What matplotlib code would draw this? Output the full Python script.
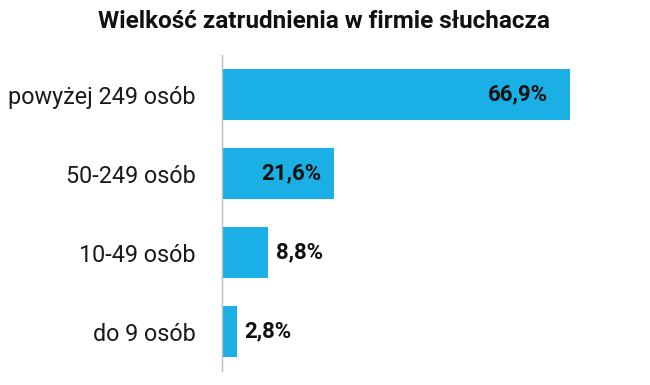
import matplotlib.pyplot as plt

plt.rcParams['font.family'] = ['Roboto', 'DejaVu Sans']

categories = ['powyżej 249 osób', '50-249 osób', '10-49 osób', 'do 9 osób']
values = [66.9, 21.6, 8.8, 2.8]
labels = ['66,9%', '21,6%', '8,8%', '2,8%']
inside = [True, True, False, False]

color = '#1ab0e6'

fig = plt.figure(figsize=(6.5, 3.85), dpi=100)
ax = fig.add_axes([0.3415, 0.036, 0.64, 0.821])

pos = list(range(len(values)))
ax.barh(pos, values, height=0.65, color=color)
ax.set_ylim(3.5, -0.5)
ax.set_xlim(0, 80)

for p, v, lab, ins in zip(pos, values, labels, inside):
    if ins:
        off = -22 if v > 50 else -13
        ax.annotate(lab, (v, p), xytext=(off, 0), textcoords='offset pixels',
                    ha='right', va='center', fontsize=16, fontweight='bold', color='#111111')
    else:
        ax.annotate(lab, (v, p), xytext=(8, 0), textcoords='offset pixels',
                    ha='left', va='center', fontsize=16, fontweight='bold', color='#111111')

ax.set_yticks(pos)
ax.set_yticklabels(categories, fontsize=16.8, color='#1a1a1a')
ax.tick_params(axis='y', length=0, pad=19)
ax.set_xticks([])
for s in ['top', 'right', 'bottom']:
    ax.spines[s].set_visible(False)
ax.spines['left'].set_color('#bbbbbb')
ax.spines['left'].set_linewidth(1)

fig.text(0.499, 0.945, 'Wielkość zatrudnienia w firmie słuchacza', ha='center', va='center',
         fontsize=17.5, fontweight='bold', color='#111111')

fig.savefig('out.png', dpi=100)
